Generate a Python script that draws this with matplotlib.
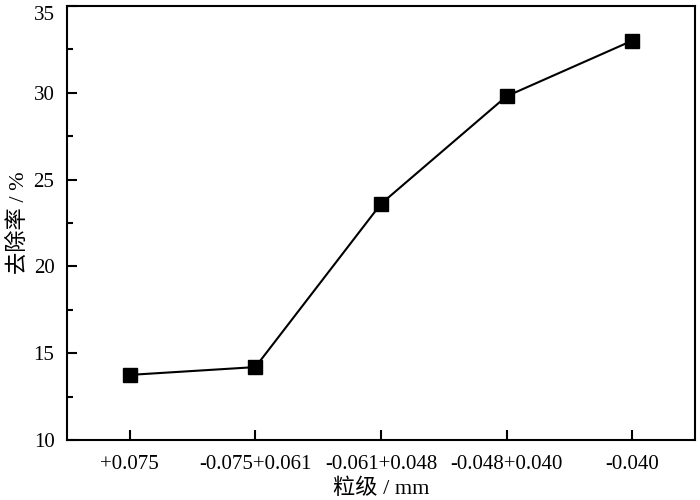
import matplotlib
matplotlib.use("Agg")
import matplotlib.pyplot as plt
from matplotlib.ticker import MultipleLocator

# 粒级 categories and removal rate (%)
sizes = ["+0.075", "-0.075+0.061", "-0.061+0.048", "-0.048+0.040", "-0.040"]
rate = [13.75, 14.2, 23.6, 29.8, 33.0]
yticks = [10, 15, 20, 25, 30, 35]

plt.rcParams["font.family"] = ["Liberation Serif", "Noto Sans CJK SC"]
plt.rcParams["axes.linewidth"] = 1.5

fig = plt.figure(figsize=(7, 5), dpi=100)
ax = fig.add_axes([0.0957, 0.12, 0.897, 0.868])

x = list(range(len(sizes)))
ax.plot(x, rate, color="black", linewidth=1.5, marker="s", markersize=9.5)

ax.set_xlim(-0.5, 4.5)
ax.set_ylim(10, 35)
ax.set_xticks(x)
ax.set_xticklabels(sizes)
ax.set_yticks(yticks)
ax.yaxis.set_minor_locator(MultipleLocator(2.5))
ax.tick_params(axis="both", which="both", direction="in", width=1.5, labelsize=15)
ax.tick_params(axis="x", which="major", pad=11)
ax.tick_params(axis="y", which="major", pad=9)
ax.tick_params(axis="both", which="major", length=7)
ax.tick_params(axis="y", which="minor", length=4)

# top label sits just below the frame so it is not cut off
ylabels = ax.get_yticklabels()
ylabels[-1].set_verticalalignment("top")

ax.set_xlabel("粒级 / mm", fontsize=16, labelpad=3)
ax.set_ylabel("去除率 / %", fontsize=16, labelpad=3)

fig.savefig("out.png", dpi=100)
